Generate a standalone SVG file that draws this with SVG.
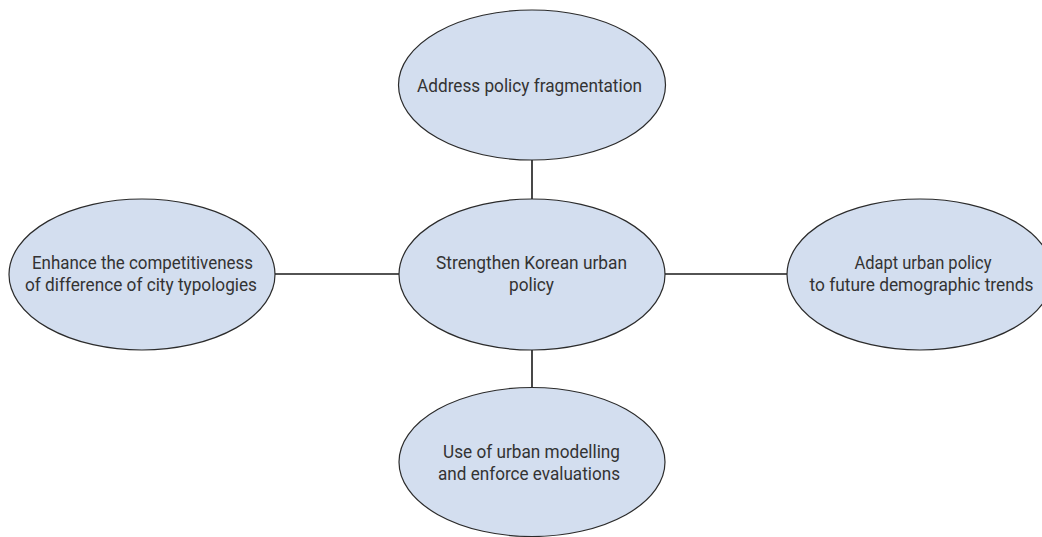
<svg xmlns="http://www.w3.org/2000/svg" width="1042" height="537" viewBox="0 0 1042 537">
<style>
.node ellipse{fill:#d3deef;stroke:#2b2b2b;stroke-width:1.2}
.node text{font-family:Roboto,"Liberation Sans",sans-serif;font-size:18.5px;fill:#333333;text-anchor:middle}
.conn line{stroke:#1a1a1a;stroke-width:1.6}
</style>
<rect width="1042" height="537" fill="#ffffff"/>
<g id="connectors" class="conn">
<line x1="532" y1="160" x2="532" y2="199"/>
<line x1="532" y1="350" x2="532" y2="388"/>
<line x1="275" y1="274" x2="399" y2="274"/>
<line x1="665" y1="274" x2="787" y2="274"/>
</g>
<g id="node-top" class="node">
<ellipse cx="532" cy="85" rx="133.5" ry="75"/>
<text x="529.5" y="92" textLength="225" lengthAdjust="spacingAndGlyphs">Address policy fragmentation</text>
</g>
<g id="node-center" class="node">
<ellipse cx="532" cy="274.5" rx="133" ry="75.5"/>
<text x="531.5" y="269" textLength="191" lengthAdjust="spacingAndGlyphs">Strengthen Korean urban</text>
<text x="531.5" y="291" textLength="45" lengthAdjust="spacingAndGlyphs">policy</text>
</g>
<g id="node-left" class="node">
<ellipse cx="142" cy="274.5" rx="133" ry="75.5"/>
<text x="142.5" y="269" textLength="221" lengthAdjust="spacingAndGlyphs">Enhance the competitiveness</text>
<text x="141" y="291" textLength="232" lengthAdjust="spacingAndGlyphs">of difference of city typologies</text>
</g>
<g id="node-right" class="node">
<ellipse cx="920" cy="274.5" rx="133" ry="75.5"/>
<text x="923" y="269" textLength="137" lengthAdjust="spacingAndGlyphs">Adapt urban policy</text>
<text x="921.5" y="291" textLength="224" lengthAdjust="spacingAndGlyphs">to future demographic trends</text>
</g>
<g id="node-bottom" class="node">
<ellipse cx="532" cy="462" rx="133" ry="74.5"/>
<text x="531.5" y="458" textLength="177" lengthAdjust="spacingAndGlyphs">Use of urban modelling</text>
<text x="529" y="480" textLength="182" lengthAdjust="spacingAndGlyphs">and enforce evaluations</text>
</g>
</svg>
